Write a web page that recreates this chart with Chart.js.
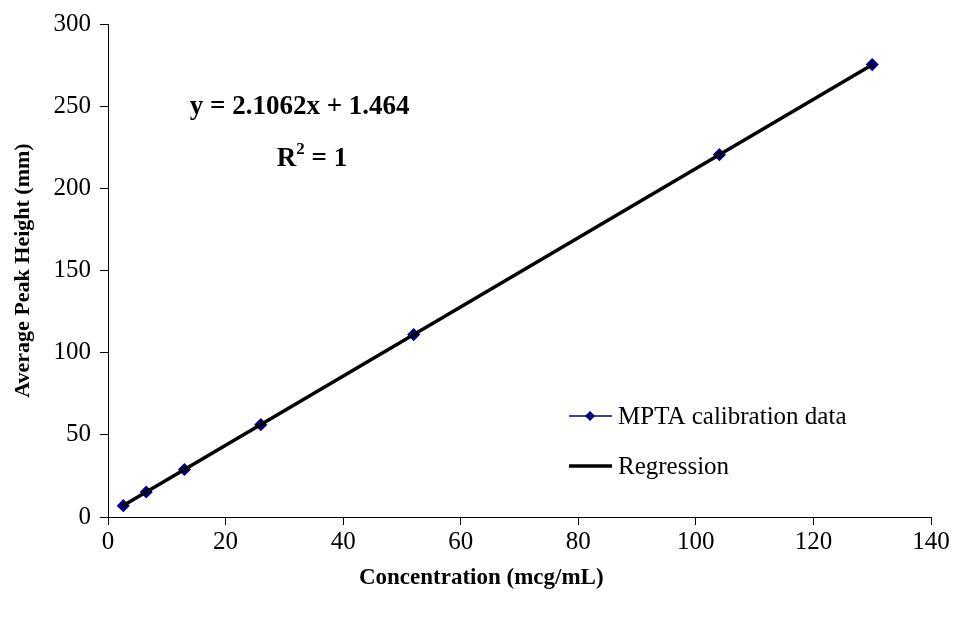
<!DOCTYPE html>
<html>
<head>
<meta charset="utf-8">
<script src="https://cdn.jsdelivr.net/npm/chart.js@4/dist/chart.umd.min.js"></script>
<style>
  html, body { margin: 0; padding: 0; background: #fff; }
  #wrap { width: 955px; height: 617px; }
</style>
</head>
<body>
<div id="wrap"><canvas id="calib"></canvas></div>
<script>
// calibration points
const concentration = [2.6, 6.5, 13, 26, 52, 104, 130];
const peakHeight = [6.9, 15.2, 28.9, 56.2, 111.0, 220.5, 275.3];

// least-squares fit
const slope = 2.1062;
const intercept = 1.464;
const fitX = [2.6, 130];

const xTicks = [0, 20, 40, 60, 80, 100, 120, 140];
const yTicks = [0, 50, 100, 150, 200, 250, 300];

const serif = "'Liberation Serif', 'Times New Roman', serif";
const navy = "#000080";

const notes = {
  id: "notes",
  afterDraw(chart) {
    const ctx = chart.ctx;
    const xs = chart.scales.x, ys = chart.scales.y;
    ctx.save();
    // equation and R^2
    ctx.fillStyle = "#000";
    ctx.textBaseline = "alphabetic";
    ctx.textAlign = "center";
    ctx.font = "bold 27px " + serif;
    ctx.fillText("y = 2.1062x + 1.464", xs.getPixelForValue(32.6), ys.getPixelForValue(245));
    ctx.textAlign = "left";
    const r = "R", rest = " = 1";
    const rw = ctx.measureText(r).width;
    const restW = ctx.measureText(rest).width;
    ctx.font = "bold 17px " + serif;
    const sw = ctx.measureText("2").width;
    const rx = xs.getPixelForValue(34.7) - (rw + sw + restW) / 2;
    const ry = ys.getPixelForValue(213.5);
    ctx.fillText("2", rx + rw, ry - 12);
    ctx.font = "bold 27px " + serif;
    ctx.fillText(r, rx, ry);
    ctx.fillText(rest, rx + rw + sw, ry);

    // x-axis title, set a little left of the axis centre
    ctx.textAlign = "center";
    ctx.textBaseline = "middle";
    ctx.font = "bold 23px " + serif;
    ctx.fillText("Concentration (mcg/mL)", xs.getPixelForValue(63.5), 578);

    // legend
    ctx.textAlign = "left";
    ctx.font = "25px " + serif;
    const lx = 569, l1 = 416, l2 = 466;
    ctx.strokeStyle = navy;
    ctx.lineWidth = 1.5;
    ctx.beginPath();
    ctx.moveTo(lx, l1); ctx.lineTo(lx + 43, l1);
    ctx.stroke();
    ctx.fillStyle = navy;
    ctx.beginPath();
    const cx = lx + 21;
    ctx.moveTo(cx, l1 - 5); ctx.lineTo(cx + 5, l1); ctx.lineTo(cx, l1 + 5); ctx.lineTo(cx - 5, l1);
    ctx.closePath();
    ctx.fill();
    ctx.strokeStyle = "#000";
    ctx.lineWidth = 3.5;
    ctx.beginPath();
    ctx.moveTo(lx, l2); ctx.lineTo(lx + 43, l2);
    ctx.stroke();
    ctx.fillStyle = "#000";
    ctx.fillText("MPTA calibration data", lx + 49, l1 + 1);
    ctx.fillText("Regression", lx + 49, l2 + 1);
    ctx.restore();
  }
};

new Chart(document.getElementById("calib"), {
  type: "scatter",
  data: {
    datasets: [
      {
        label: "Regression",
        data: fitX.map(x => ({ x: x, y: slope * x + intercept })),
        showLine: true,
        borderColor: "#000",
        borderWidth: 3.5,
        pointRadius: 0,
        order: 1
      },
      {
        label: "MPTA calibration data",
        data: concentration.map((x, i) => ({ x: x, y: peakHeight[i] })),
        showLine: true,
        borderColor: navy,
        borderWidth: 1.5,
        pointStyle: "rectRot",
        pointRadius: 5.5,
        pointBackgroundColor: navy,
        pointBorderColor: navy,
        order: 2
      }
    ]
  },
  options: {
    responsive: true,
    maintainAspectRatio: false,
    animation: false,
    layout: { padding: { top: 22, right: 24, left: 0, bottom: 0 } },
    plugins: {
      legend: { display: false },
      tooltip: { enabled: false }
    },
    scales: {
      x: {
        type: "linear",
        min: 0,
        max: 140,
        afterBuildTicks: s => { s.ticks = xTicks.map(v => ({ value: v })); },
        afterFit: s => { s.height = 100; },
        grid: { drawOnChartArea: false, drawTicks: true, tickLength: 8, color: "#000" },
        border: { color: "#000", width: 1 },
        ticks: { color: "#000", font: { family: serif, size: 25 }, padding: 2 }
      },
      y: {
        type: "linear",
        min: 0,
        max: 300,
        afterBuildTicks: s => { s.ticks = yTicks.map(v => ({ value: v })); },
        afterFit: s => { s.width = 108; },
        grid: { drawOnChartArea: false, drawTicks: true, tickLength: 8, color: "#000" },
        border: { color: "#000", width: 1 },
        ticks: { color: "#000", font: { family: serif, size: 25 }, padding: 9 },
        title: {
          display: true,
          text: "Average Peak Height (mm)",
          color: "#000",
          font: { family: serif, size: 22, weight: "bold" },
          padding: { top: 10, bottom: 2 }
        }
      }
    }
  },
  plugins: [notes]
});
</script>
</body>
</html>
